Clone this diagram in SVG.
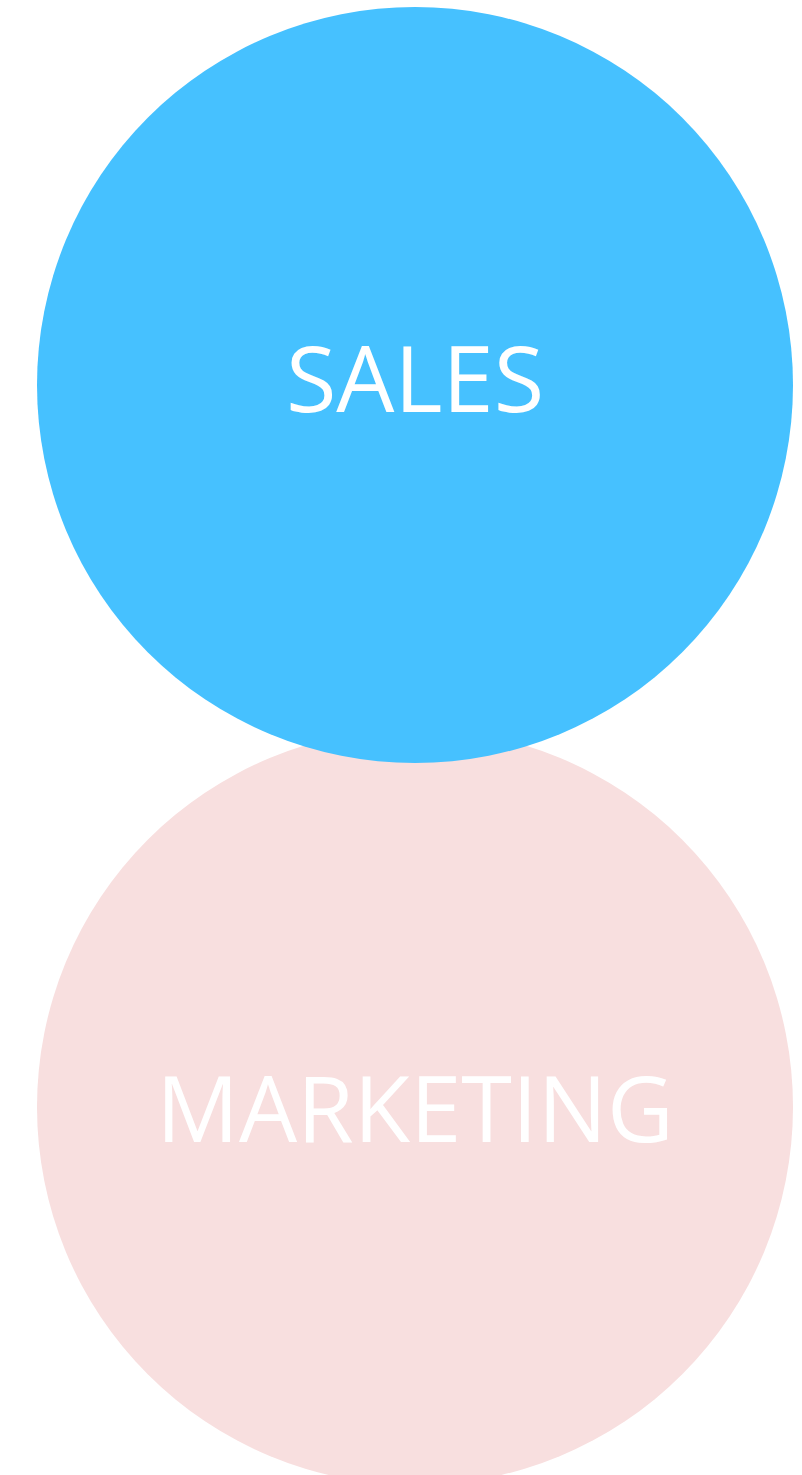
<svg xmlns="http://www.w3.org/2000/svg" width="802" height="1475" viewBox="0 0 802 1475">
<style>
.lbl{font-family:"Open Sans","Noto Sans",sans-serif;font-size:92px;fill:#ffffff;text-anchor:middle}
</style>
<rect width="802" height="1475" fill="#ffffff"/>
<g id="marketing">
<circle cx="415" cy="1107" r="378" fill="#F8DFDF"/>
<text class="lbl" x="415" y="1142">MARKETING</text>
</g>
<g id="sales">
<circle cx="415" cy="385" r="378" fill="#46C1FF"/>
<text class="lbl" x="415" y="412">SALES</text>
</g>
<g id="connectors"></g>
</svg>
